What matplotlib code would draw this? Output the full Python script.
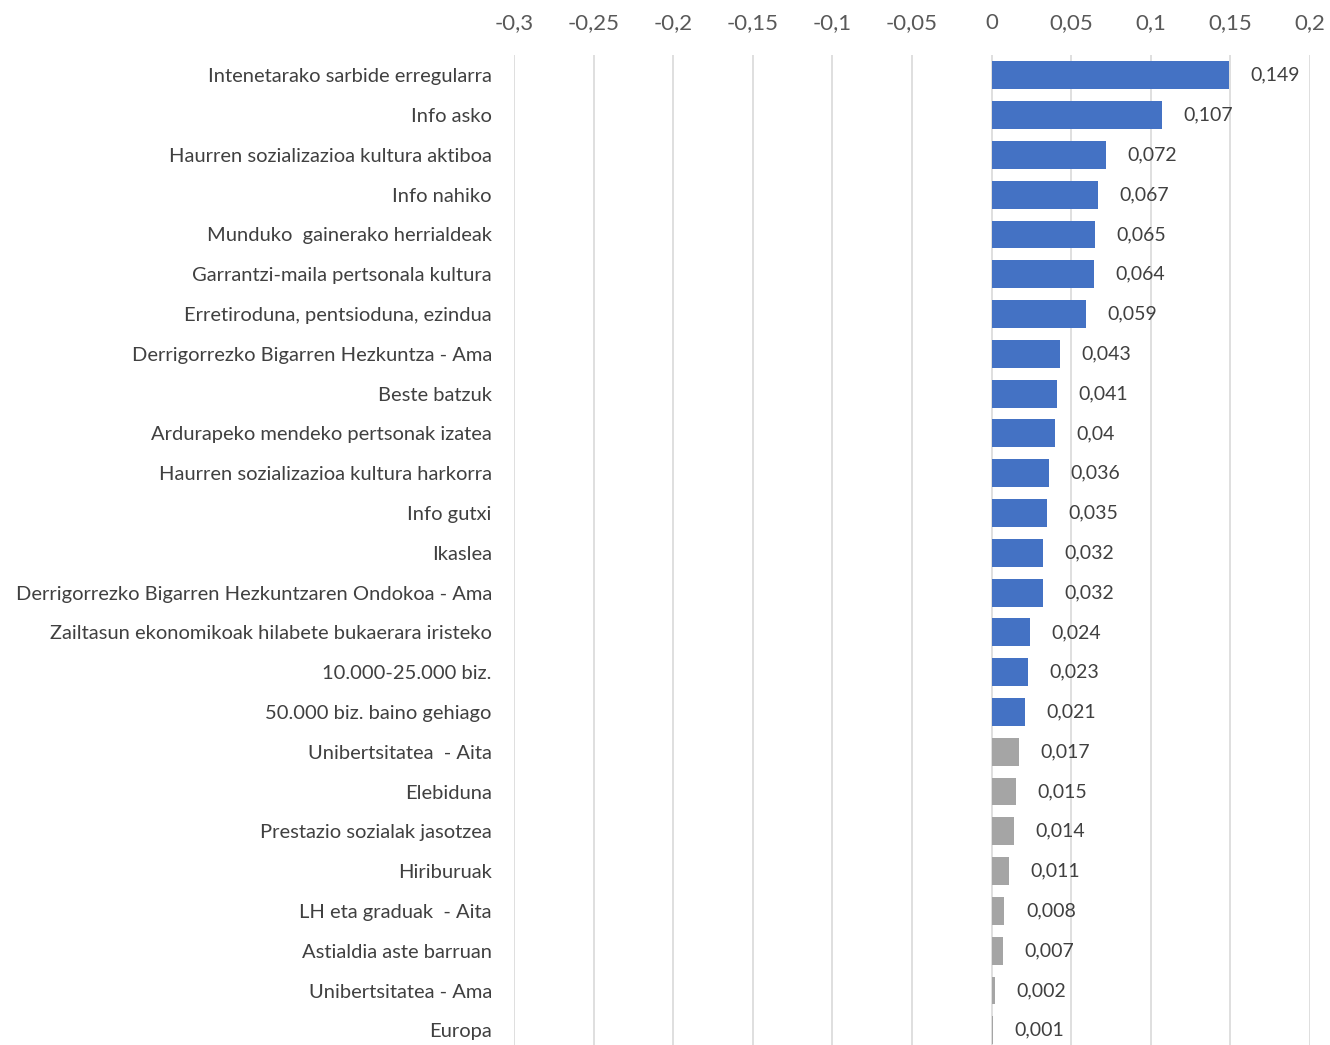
import matplotlib
matplotlib.use("Agg")
import matplotlib.pyplot as plt
from matplotlib.ticker import FuncFormatter

categories = [
    "Intenetarako sarbide erregularra",
    "Info asko",
    "Haurren sozializazioa kultura aktiboa",
    "Info nahiko",
    "Munduko  gainerako herrialdeak",
    "Garrantzi-maila pertsonala kultura",
    "Erretiroduna, pentsioduna, ezindua",
    "Derrigorrezko Bigarren Hezkuntza - Ama",
    "Beste batzuk",
    "Ardurapeko mendeko pertsonak izatea",
    "Haurren sozializazioa kultura harkorra",
    "Info gutxi",
    "Ikaslea",
    "Derrigorrezko Bigarren Hezkuntzaren Ondokoa - Ama",
    "Zailtasun ekonomikoak hilabete bukaerara iristeko",
    "10.000-25.000 biz.",
    "50.000 biz. baino gehiago",
    "Unibertsitatea  - Aita",
    "Elebiduna",
    "Prestazio sozialak jasotzea",
    "Hiriburuak",
    "LH eta graduak  - Aita",
    "Astialdia aste barruan",
    "Unibertsitatea - Ama",
    "Europa",
]
values = [0.149, 0.107, 0.072, 0.067, 0.065, 0.064, 0.059, 0.043, 0.041, 0.040,
          0.036, 0.035, 0.032, 0.032, 0.024, 0.023, 0.021, 0.017, 0.015, 0.014,
          0.011, 0.008, 0.007, 0.002, 0.001]
value_labels = ["0,149", "0,107", "0,072", "0,067", "0,065", "0,064", "0,059", "0,043",
                "0,041", "0,04", "0,036", "0,035", "0,032", "0,032", "0,024", "0,023",
                "0,021", "0,017", "0,015", "0,014", "0,011", "0,008", "0,007", "0,002", "0,001"]
n_blue = 17
xticks = [-0.3, -0.25, -0.2, -0.15, -0.1, -0.05, 0, 0.05, 0.1, 0.15, 0.2]

plt.rcParams['font.family'] = ['Lato', 'DejaVu Sans']

fig = plt.figure(figsize=(13.3, 10.45), dpi=100)
ax = fig.add_axes([0.3865, -0.005, 0.5985, 0.952])

colors = ["#4472C4" if i < n_blue else "#A5A5A5" for i in range(len(values))]
ypos = list(range(len(values)))
ax.barh(ypos, values, height=0.7, color=colors, zorder=3)

for y, v, lab in zip(ypos, values, value_labels):
    ax.text(v + 0.0135, y, lab, va="center", ha="left", fontsize=14, color="#404040")

ax.set_xlim(-0.3, 0.2)
ax.set_ylim(len(values) - 0.5, -0.5)
ax.set_xticks(xticks)
ax.xaxis.set_major_formatter(FuncFormatter(lambda x, p: ("%g" % round(x, 3)).replace(".", ",")))
ax.xaxis.tick_top()
ax.tick_params(axis="x", length=0, pad=16, labelsize=16, labelcolor="#595959")
ax.set_yticks(ypos)
ax.set_yticklabels(categories)
ax.tick_params(axis="y", length=0, pad=16, labelsize=14.5, labelcolor="#404040")
ax.grid(axis="x", color="#D9D9D9", linewidth=1.2, zorder=0)
for s in ax.spines.values():
    s.set_visible(False)

fig.savefig("out.png", dpi=100)
